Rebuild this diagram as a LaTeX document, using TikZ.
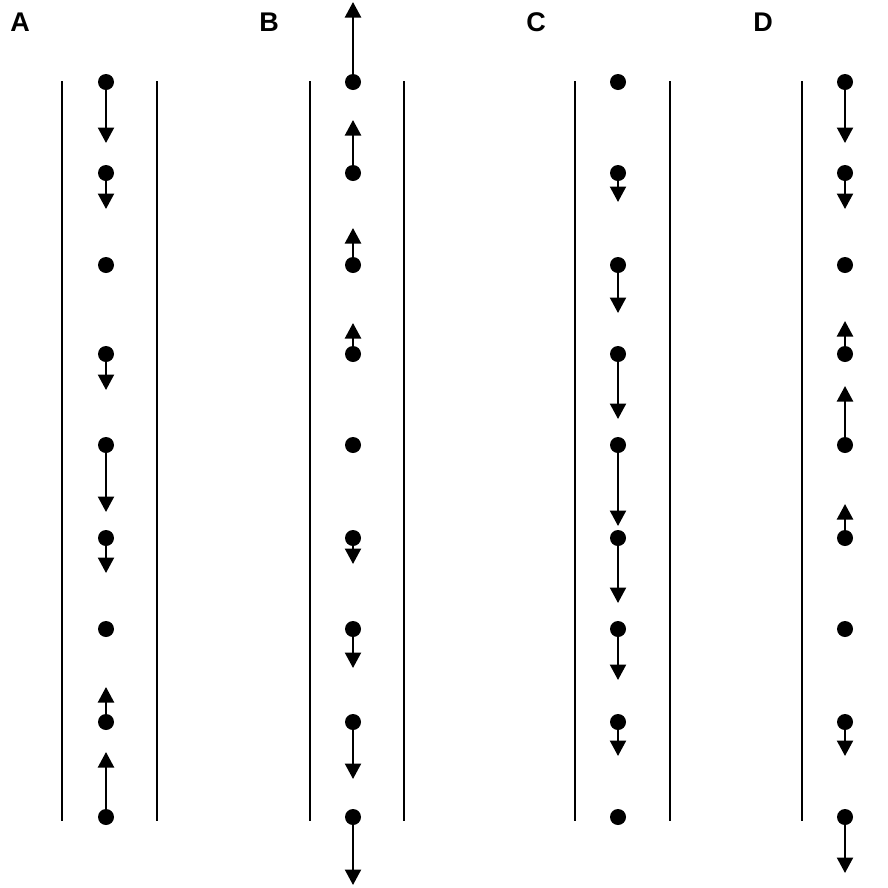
\documentclass[tikz,border=0pt]{standalone}
\usepackage{fontspec}
\setmainfont{Liberation Sans}
\usetikzlibrary{arrows.meta}

\begin{document}
\begin{tikzpicture}[x=1pt, y=-1pt]
	\useasboundingbox (0,0) rectangle (888,887);
	\begin{scope}[every node/.style = {font = \fontsize{27}{30}\selectfont\bfseries}]
		\node (labA) at (20,22) {A};
		\node (labB) at (269,22) {B};
		\node (labC) at (536,22) {C};
		\node (labD) at (763,22) {D};
	\end{scope}
	% walls of the channels
	\begin{scope}[every path/.style = {draw=black, line width=2.6pt}]
		\path (62,81) -- (62,821);
		\path (157,81) -- (157,821);
		\path (310,81) -- (310,821);
		\path (404,81) -- (404,821);
		\path (575,81) -- (575,821);
		\path (670,81) -- (670,821);
		\path (802,81) -- (802,821);
	\end{scope}
	% particles and their velocities
	\begin{scope}[dot/.style = {circle, fill=black, inner sep=0pt, minimum size=16pt},
			flow/.style = {draw=black, line width=2.3pt, -{Triangle[width=16pt, length=15.5pt]}}]
		\foreach \p/\x/\lens in {A/106/{61,36,0,36,67,35,0,-35,-65},
				B/353/{-80,-53,-37,-31,0,26,39,57,68},
				C/618/{0,29,48,65,81,65,51,34,0},
				D/845/{61,36,0,-33,-59,-34,0,34,56}}
		{
			\foreach \len [count=\i] in \lens {
				\pgfmathsetmacro\y{{82,173,265,354,445,538,629,722,817}[\i-1]}
				\node[dot] (\p\i) at (\x,\y) {};
				\ifnum\len=0 \else
					\coordinate (\p\i tip) at ({\x},{\y+(\len)});
					\draw[flow] (\p\i) -- (\p\i tip);
				\fi
			}
		}
	\end{scope}
\end{tikzpicture}
\end{document}
